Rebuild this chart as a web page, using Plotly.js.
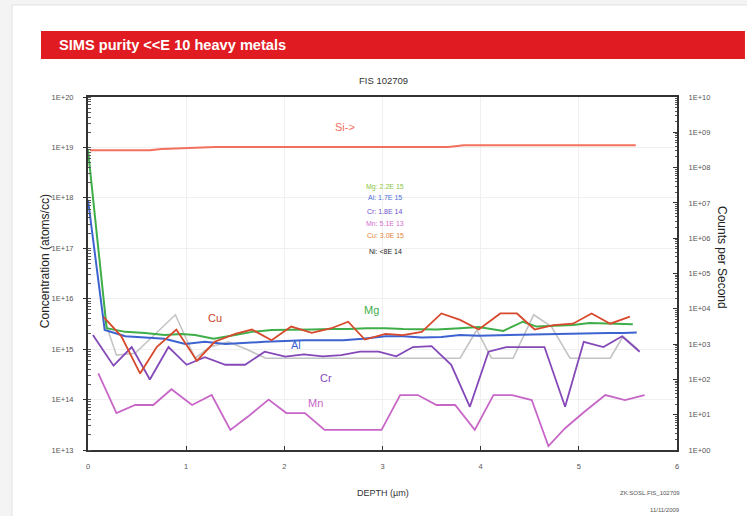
<!DOCTYPE html>
<html>
<head>
<meta charset="utf-8">
<script src="https://cdn.plot.ly/plotly-3.0.1.min.js"></script>
<style>html,body{margin:0;padding:0;background:#f4f4f4;}#chart{width:747px;height:516px;}</style>
</head>
<body>
<div id="chart"></div>
<script>
// ---- data ----
var siDepth = [0.02, 0.63, 0.75, 1.30, 3.67, 3.83, 5.58];
var siConc  = [8.8e18, 8.8e18, 9.3e18, 1.02e19, 1.02e19, 1.1e19, 1.1e19];

var mgDepth = [0.00, 0.19, 0.38, 0.58, 0.78, 0.95, 1.09, 1.28, 1.50, 1.67, 1.87, 2.07, 2.28, 2.48, 2.65, 2.84, 3.03, 3.21, 3.40, 3.55, 3.79, 3.98, 4.23, 4.43, 4.57, 4.76, 4.94, 5.11, 5.32, 5.55];
var mgConc  = [8.9e18, 2.6e15, 2.2e15, 2.1e15, 1.9e15, 2.0e15, 1.9e15, 1.6e15, 1.9e15, 2.2e15, 2.4e15, 2.4e15, 2.45e15, 2.5e15, 2.5e15, 2.6e15, 2.6e15, 2.5e15, 2.45e15, 2.45e15, 2.6e15, 2.75e15, 2.3e15, 3.5e15, 2.8e15, 2.9e15, 3.0e15, 3.3e15, 3.2e15, 3.1e15];

var alDepth = [0.00, 0.17, 0.38, 0.58, 0.78, 0.99, 1.19, 1.40, 1.60, 1.80, 2.01, 2.20, 2.40, 2.60, 2.80, 3.03, 3.21, 3.40, 3.60, 3.79, 3.98, 4.23, 4.40, 4.57, 4.74, 4.91, 5.10, 5.30, 5.45, 5.59];
var alConc  = [9.1e17, 2.4e15, 1.8e15, 1.7e15, 1.6e15, 1.26e15, 1.4e15, 1.26e15, 1.35e15, 1.4e15, 1.45e15, 1.5e15, 1.5e15, 1.5e15, 1.6e15, 1.8e15, 1.8e15, 1.7e15, 1.75e15, 1.9e15, 1.85e15, 1.9e15, 1.95e15, 2.0e15, 2.0e15, 2.05e15, 2.05e15, 2.1e15, 2.1e15, 2.15e15];

var cuDepth = [0.16, 0.34, 0.53, 0.70, 0.90, 1.11, 1.29, 1.50, 1.67, 1.87, 2.07, 2.28, 2.48, 2.65, 2.82, 3.03, 3.21, 3.40, 3.60, 3.79, 3.98, 4.20, 4.37, 4.55, 4.74, 4.94, 5.13, 5.32, 5.52];
var cuConc  = [4.3e15, 1.8e15, 3.3e14, 1.1e15, 2.45e15, 5.9e14, 1.4e15, 2.0e15, 2.45e15, 1.5e15, 2.8e15, 2.1e15, 2.6e15, 3.5e15, 1.55e15, 2.0e15, 1.9e15, 2.2e15, 5.1e15, 3.8e15, 2.45e15, 5.1e15, 5.1e15, 2.45e15, 3.0e15, 3.2e15, 5.1e15, 3.2e15, 4.4e15];

var crDepth = [0.05, 0.26, 0.445, 0.63, 0.82, 1.005, 1.19, 1.40, 1.60, 1.80, 2.01, 2.20, 2.39, 2.58, 2.77, 2.96, 3.14, 3.31, 3.50, 3.70, 3.89, 4.08, 4.26, 4.47, 4.65, 4.86, 5.05, 5.25, 5.44, 5.62];
var crConc  = [1.9e15, 4.7e14, 1.1e15, 2.5e14, 1.1e15, 4.9e14, 6.9e14, 4.9e14, 4.9e14, 8.9e14, 7.1e14, 7.9e14, 7.2e14, 7.6e14, 8.9e14, 8.9e14, 7.2e14, 1.1e15, 1.15e15, 4.9e14, 7.2e13, 8.9e14, 1.1e15, 1.1e15, 1.1e15, 7.2e13, 1.4e15, 1.1e15, 1.8e15, 8.9e14];

var mnDepth = [0.105, 0.29, 0.48, 0.665, 0.85, 1.06, 1.26, 1.45, 1.63, 1.84, 2.02, 2.21, 2.41, 2.60, 2.80, 2.99, 3.18, 3.36, 3.55, 3.74, 3.94, 4.13, 4.32, 4.52, 4.69, 4.86, 5.06, 5.27, 5.47, 5.67];
var mnConc  = [3.3e14, 5.4e13, 7.8e13, 7.8e13, 1.6e14, 7.8e13, 1.23e14, 2.5e13, 4.6e13, 1.0e14, 5.4e13, 5.4e13, 2.5e13, 2.5e13, 2.5e13, 2.5e13, 1.23e14, 1.23e14, 7.8e13, 7.8e13, 2.5e13, 1.23e14, 1.23e14, 9.8e13, 1.2e13, 2.7e13, 5.8e13, 1.23e14, 9.8e13, 1.23e14];

var niDepth = [0.17, 0.29, 0.48, 0.67, 0.89, 1.09, 1.24, 1.43, 1.62, 1.81, 2.00, 2.19, 2.38, 2.57, 2.76, 2.95, 3.14, 3.33, 3.52, 3.79, 3.96, 4.11, 4.33, 4.54, 4.72, 4.91, 5.09, 5.32, 5.45, 5.60];
var niConc  = [3.7e15, 7.6e14, 8.3e14, 1.9e15, 4.8e15, 6.6e14, 1.1e15, 1.4e15, 9.8e14, 6.6e14, 6.6e14, 6.6e14, 6.6e14, 6.6e14, 6.6e14, 6.6e14, 6.6e14, 6.6e14, 6.6e14, 6.6e14, 2.4e15, 6.6e14, 6.6e14, 4.8e15, 2.8e15, 6.6e14, 6.6e14, 6.6e14, 1.8e15, 1.0e15];

var leftTickVals  = [1e13, 1e14, 1e15, 1e16, 1e17, 1e18, 1e19, 1e20];
var leftTickText  = ["1E+13", "1E+14", "1E+15", "1E+16", "1E+17", "1E+18", "1E+19", "1E+20"];
var rightTickVals = [1e0, 1e1, 1e2, 1e3, 1e4, 1e5, 1e6, 1e7, 1e8, 1e9, 1e10];
var rightTickText = ["1E+00", "1E+01", "1E+02", "1E+03", "1E+04", "1E+05", "1E+06", "1E+07", "1E+08", "1E+09", "1E+10"];
var xTickVals = [0, 1, 2, 3, 4, 5, 6];
var xTickText = ["0", "1", "2", "3", "4", "5", "6"];

var legendLines = ["Mg: 2.2E 15", "Al: 1.7E 15", "Cr: 1.8E 14", "Mn: 5.1E 13", "Cu: 3.0E 15", "Ni: <8E 14"];
var legendColors = ["#8cc63f", "#4a6fd6", "#6a4fc9", "#d46ed0", "#e3823a", "#222222"];
var legendY = [18.22, 18.00, 17.72, 17.50, 17.26, 16.93];

// ---- styling ----
var narrow = "Liberation Sans Narrow, Arial Narrow, Liberation Sans, Arial, sans-serif";
var sans = "Liberation Sans, Arial, sans-serif";

function tr(x, y, color, width) {
  return {x: x, y: y, type: "scatter", mode: "lines", xaxis: "x", yaxis: "y",
          line: {color: color, width: width}, hoverinfo: "skip", showlegend: false};
}

var data = [
  tr(niDepth, niConc, "#c4c4c4", 1.6),
  tr(mnDepth, mnConc, "#c766c7", 1.8),
  tr(crDepth, crConc, "#8448b8", 1.8),
  tr(alDepth, alConc, "#3d63d0", 2),
  tr(mgDepth, mgConc, "#3fae49", 2),
  tr(cuDepth, cuConc, "#d7492c", 1.8),
  tr(siDepth, siConc, "#f4705e", 2),
  {x: [0], y: [1], type: "scatter", mode: "markers", xaxis: "x", yaxis: "y2",
   marker: {opacity: 0}, hoverinfo: "skip", showlegend: false}
];

var annotations = [
  {text: "SIMS purity &lt;&lt;E 10 heavy metals", xref: "paper", yref: "paper", x: -0.0526, y: 1.147,
   xanchor: "left", yanchor: "middle", showarrow: false,
   font: {family: narrow, size: 14.6, color: "#ffffff", weight: "bold"}},
  {text: "FIS 102709", xref: "paper", yref: "paper", x: 0.501, y: 1.046, xanchor: "center", yanchor: "middle",
   showarrow: false, font: {family: sans, size: 9.5, color: "#333"}},
  {text: "Concentration (atoms/cc)", xref: "paper", yref: "paper", x: -0.073, y: 0.535, textangle: -90,
   xanchor: "center", yanchor: "middle", showarrow: false, font: {family: sans, size: 12, color: "#222"}},
  {text: "Counts per Second", xref: "paper", yref: "paper", x: 1.0764, y: 0.544, textangle: 90,
   xanchor: "center", yanchor: "middle", showarrow: false, font: {family: sans, size: 12, color: "#222"}},
  {text: "DEPTH (µm)", xref: "paper", yref: "paper", x: 0.501, y: -0.122, xanchor: "center", yanchor: "middle",
   showarrow: false, font: {family: sans, size: 9, color: "#333"}},
  {text: "ZK:SOSL.FIS_102709", xref: "paper", yref: "paper", x: 1.0085, y: -0.122, xanchor: "right", yanchor: "middle",
   showarrow: false, font: {family: narrow, size: 6, color: "#555"}},
  {text: "11/11/2009", xref: "paper", yref: "paper", x: 1.0085, y: -0.170, xanchor: "right", yanchor: "middle",
   showarrow: false, font: {family: narrow, size: 6, color: "#555"}},
  {text: "Si-&gt;", x: 2.62, y: 19.41, xref: "x", yref: "y", showarrow: false, font: {family: sans, size: 11, color: "#f4705e"}},
  {text: "Cu", x: 1.29, y: 15.62, xref: "x", yref: "y", showarrow: false, font: {family: sans, size: 11, color: "#c8452a"}},
  {text: "Mg", x: 2.89, y: 15.78, xref: "x", yref: "y", showarrow: false, font: {family: sans, size: 11, color: "#3fae49"}},
  {text: "Al", x: 2.12, y: 15.08, xref: "x", yref: "y", showarrow: false, font: {family: sans, size: 11, color: "#3d63d0"}},
  {text: "Cr", x: 2.42, y: 14.43, xref: "x", yref: "y", showarrow: false, font: {family: sans, size: 11, color: "#8448b8"}},
  {text: "Mn", x: 2.32, y: 13.93, xref: "x", yref: "y", showarrow: false, font: {family: sans, size: 11, color: "#c766c7"}}
];
for (var i = 0; i < legendLines.length; i++) {
  annotations.push({text: legendLines[i], x: 3.03, y: legendY[i], xref: "x", yref: "y", showarrow: false,
    font: {family: narrow, size: 7, color: legendColors[i]}});
}

var axisFont = {family: narrow, size: 7.5, color: "#555"};
var layout = {
  width: 747, height: 516, autosize: false,
  margin: {l: 88, r: 70, t: 97, b: 66, pad: 0},
  paper_bgcolor: "#f4f4f4", plot_bgcolor: "#ffffff",
  showlegend: false,
  xaxis: {range: [0, 6], tickmode: "array", tickvals: xTickVals, ticktext: xTickText,
          ticks: "inside", ticklen: 4, tickcolor: "#333", tickfont: axisFont, ticklabelstandoff: 8,
          showline: true, linecolor: "#333", linewidth: 2, mirror: true,
          showgrid: true, gridcolor: "#f0f0f0", zeroline: false, fixedrange: true},
  yaxis: {type: "log", range: [13, 20], tickmode: "array", tickvals: leftTickVals, ticktext: leftTickText,
          ticks: "outside", ticklen: 3, tickcolor: "#333", tickfont: axisFont, ticklabelstandoff: 8,
          minor: {ticks: "inside", ticklen: 3, tickcolor: "#555", dtick: "D1", showgrid: false},
          showline: true, linecolor: "#333", linewidth: 2, mirror: false,
          showgrid: true, gridcolor: "#f0f0f0", zeroline: false, fixedrange: true},
  yaxis2: {type: "log", range: [0, 10], overlaying: "y", side: "right", tickmode: "array",
           tickvals: rightTickVals, ticktext: rightTickText,
           ticks: "inside", ticklen: 4, tickcolor: "#333", tickfont: axisFont, ticklabelstandoff: 8,
           minor: {ticks: "inside", ticklen: 2, tickcolor: "#555", dtick: "D1", showgrid: false},
           showline: true, linecolor: "#333", linewidth: 2, showgrid: false, zeroline: false, fixedrange: true},
  shapes: [
    {type: "rect", xref: "paper", yref: "paper", x0: -0.129, x1: 1.3, y0: -0.4, y1: 1.2606,
     fillcolor: "#ffffff", line: {color: "#e2e2e2", width: 1}, layer: "below"},
    {type: "rect", xref: "paper", yref: "paper", x0: -0.0798, x1: 1.1154, y0: 1.1076, y1: 1.187,
     fillcolor: "#e01b22", line: {width: 0}, layer: "above"}
  ],
  annotations: annotations
};

Plotly.newPlot("chart", data, layout, {displayModeBar: false, staticPlot: true});
</script>
</body>
</html>
